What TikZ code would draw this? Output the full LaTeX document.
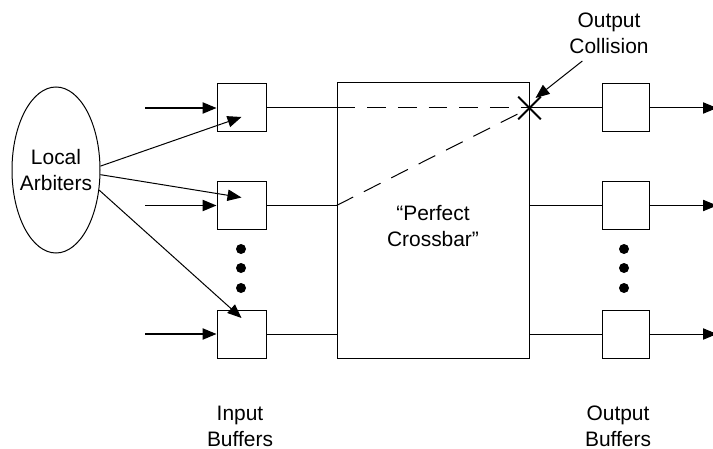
\documentclass[tikz,border=0pt]{standalone}
\usepackage{fontspec}
\setmainfont{Liberation Sans}
\usetikzlibrary{arrows.meta,shapes.geometric}

\begin{document}
\begin{tikzpicture}[>={Triangle[length=10.5pt,width=8.5pt]},x=0.75pt,y=-0.75pt,line width=0.75pt]
	\tikzset{buf/.style={draw,minimum width=36.75pt,minimum height=36pt,inner sep=0pt},
		lbl/.style={align=center,font=\fontsize{15.7}{19.5}\selectfont},
		dot/.style={fill,circle,minimum size=7.5pt,inner sep=0pt},
		dsh/.style={dash pattern=on 14pt off 9pt}}
	\useasboundingbox (0,0) rectangle (713,449);
	\node[draw,ellipse,minimum width=66pt,minimum height=124.5pt,inner sep=-6pt,lbl] (arb) at (56,170) {Local\\Arbiters};
	\node[draw,minimum width=144pt,minimum height=206.25pt] (xbar) at (433,220.5) {};
	\node[lbl] (xlbl) at (433,226) {“Perfect\\Crossbar”};
	\foreach \i/\y in {1/108,2/205.5,3/334}{
		\node[buf] (in\i) at (241.5,\y) {};
		\node[buf,minimum width=35.25pt] (out\i) at (625.5,\y) {};
		\coordinate (src\i) at (145,\y);
		\coordinate (snk\i) at (717,\y);
		\draw[->,line width=1pt] (src\i) -- (in\i);
		\draw (in\i) -- (xbar.west |- in\i);
		\draw (xbar.east |- out\i) -- (out\i);
		\draw[->] (out\i) -- (snk\i);
	}
	% trọng tài cục bộ
	\draw[->] (arb.5) -- ([yshift=-6.75pt]in1.center);
	\draw[->] (arb.-6) -- ([yshift=6pt]in2.center);
	\draw[->] (arb.-25) -- ([yshift=12pt]in3.center);
	% va chạm
	\coordinate (hit) at (xbar.east |- in1);
	\draw[dsh] (xbar.west |- in1) -- (hit);
	\draw[dsh] (xbar.west |- in2) -- (hit);
	\draw[line width=1.4pt] ([shift={(-8.5pt,-8.5pt)}]hit) -- ([shift={(8.5pt,8.5pt)}]hit);
	\draw[line width=1.4pt] ([shift={(-8.5pt,8.5pt)}]hit) -- ([shift={(8.5pt,-8.5pt)}]hit);
	\node[lbl] (coll) at (609,33) {Output\\Collision};
	\draw[->] ([xshift=-20pt,yshift=-2pt]coll.south) -- ([xshift=4.5pt,yshift=7.5pt]hit);
	\foreach \y in {249,268,288}{
		\node[dot] at (241,\y) {};
		\node[dot] at (624,\y) {};
	}
	\node[lbl] (ilbl) at (240,426) {Input\\Buffers};
	\node[lbl] (olbl) at (618,426) {Output\\Buffers};
\end{tikzpicture}
\end{document}
